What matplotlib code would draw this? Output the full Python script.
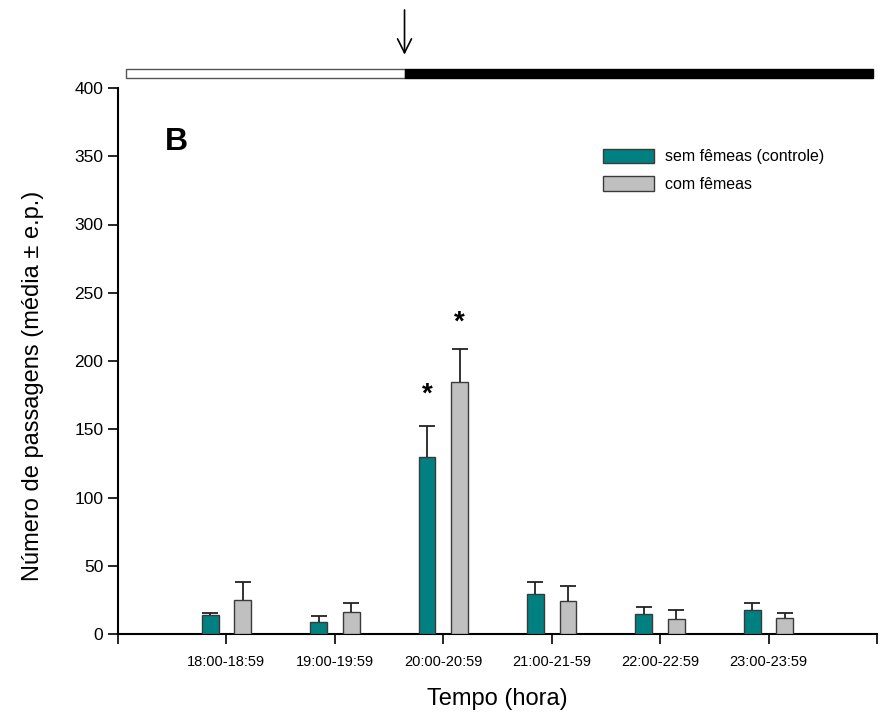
import numpy as np
import matplotlib
matplotlib.use("Agg")
import matplotlib.pyplot as plt
from matplotlib.patches import Rectangle

plt.rcParams['font.family'] = ['Liberation Sans', 'DejaVu Sans']

# data
hours = ["18:00-18:59", "19:00-19:59", "20:00-20:59",
         "21:00-21-59", "22:00-22:59", "23:00-23:59"]
controle = [13.6, 8.8, 129.4, 29.0, 14.9, 17.3]
controle_ep = [2.0, 4.1, 23.0, 9.3, 5.1, 5.6]
femeas = [24.9, 16.3, 184.8, 23.9, 11.0, 11.4]
femeas_ep = [13.2, 6.6, 24.2, 11.0, 6.3, 4.0]
significant = [2]

TEAL = "#008080"
GRAY = "#c0c0c0"
EDGE = "#3a3a3a"

fig = plt.figure(figsize=(8.87, 7.17), dpi=100)
ax = fig.add_axes([118 / 887, 1 - 634 / 717, 759 / 887, 546 / 717])

x = np.arange(len(hours))
w = 0.155
off = 0.15
err_kw = dict(ecolor="#222222", elinewidth=1.3, capsize=6, capthick=1.3)
bars = []
bars.append(ax.bar(x - off, controle, w, color=TEAL, edgecolor=EDGE, linewidth=1,
                   yerr=[np.zeros(len(x)), controle_ep], error_kw=err_kw,
                   label="sem fêmeas (controle)", zorder=3))
bars.append(ax.bar(x + off, femeas, w, color=GRAY, edgecolor=EDGE, linewidth=1,
                   yerr=[np.zeros(len(x)), femeas_ep], error_kw=err_kw,
                   label="com fêmeas", zorder=3))
# only the upper half of the error bar is shown
for b in bars:
    caps = b.errorbar.lines[1]
    caps[0].set_visible(False)

for i in significant:
    ax.text(x[i] - off, controle[i] + controle_ep[i] + 23, "*", ha="center",
            va="center", fontsize=20, fontweight="bold")
    ax.text(x[i] + off, femeas[i] + femeas_ep[i] + 19, "*", ha="center",
            va="center", fontsize=20, fontweight="bold")

ax.set_xlim(-1, 6)
ax.set_ylim(0, 400)
ax.set_xticks(x)
ax.set_xticklabels(hours, fontsize=10.5)
ax.set_xticks([-1, 6], minor=True)
ax.tick_params(axis="x", which="both", direction="out", length=7, width=1.2, pad=8)
ax.set_yticks(np.arange(0, 401, 50))
ax.tick_params(axis="y", direction="out", length=7, width=1.2, labelsize=12.5)
for s in ["top", "right"]:
    ax.spines[s].set_visible(False)
for s in ["left", "bottom"]:
    ax.spines[s].set_linewidth(1.5)

ax.set_ylabel("Número de passagens (média ± e.p.)", fontsize=17)
ax.yaxis.set_label_coords(-0.098, 0.455)
ax.set_xlabel("Tempo (hora)", fontsize=17, labelpad=14)

ax.text(0.062, 0.901, "B", transform=ax.transAxes, fontsize=23,
        fontweight="bold", va="center", ha="left")

ax.legend(loc="upper left", bbox_to_anchor=(0.62, 0.915), frameon=False,
          fontsize=11.5, handlelength=3.2, handleheight=1.0, labelspacing=0.75,
          handletextpad=0.7)

# light/dark bar and arrow above the plot
ax.add_patch(Rectangle((0.0105, 1.0183), 0.367, 0.0165, transform=ax.transAxes,
                       facecolor="white", edgecolor="#555555", linewidth=1,
                       clip_on=False))
ax.add_patch(Rectangle((0.3775, 1.0183), 0.6172, 0.0165, transform=ax.transAxes,
                       facecolor="black", edgecolor="black", linewidth=1,
                       clip_on=False))
ax.annotate("", xy=(0.3775, 1.056), xytext=(0.3775, 1.148),
            xycoords="axes fraction",
            arrowprops=dict(arrowstyle="->", color="black", lw=1.2,
                            mutation_scale=25))

fig.savefig("out.png", dpi=100)
